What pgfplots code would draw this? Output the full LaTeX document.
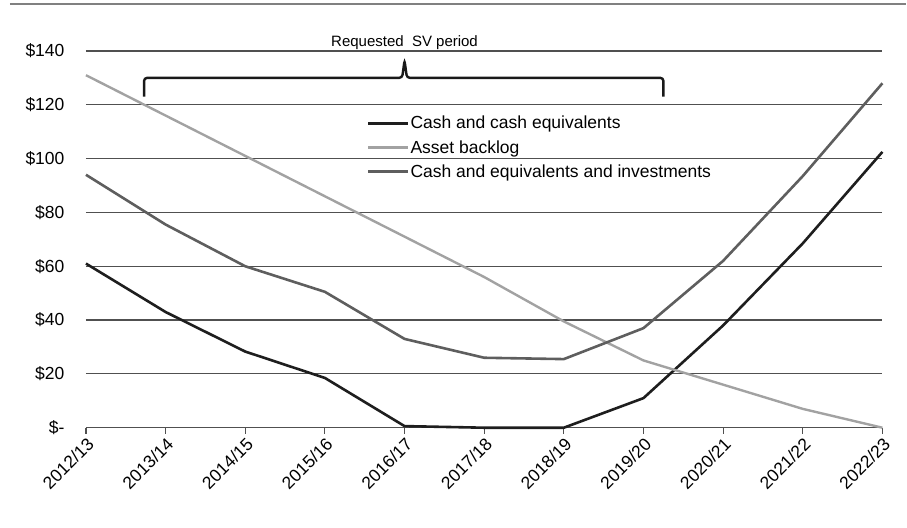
\documentclass[border=0pt]{standalone}
\usepackage{fontspec}
\setmainfont{Liberation Sans}
\usepackage{pgfplots}
\pgfplotsset{compat=1.18}

\definecolor{cashc}{HTML}{1E1E1E}
\definecolor{assetc}{HTML}{A2A2A2}
\definecolor{investc}{HTML}{5E5E5E}
\definecolor{gridc}{HTML}{505050}

\pgfplotstableread{
x cash asset invest
0  61    131   94
1  43    116   75.5
2  28.3  101   60
3  18.5  86    50.5
4  0.6   71    33
5  0     56    26
6  0     39.5  25.5
7  11    25    37
8  38    16    62
9  68.5  7     93.5
10 102.5 0     128
}\datatable

\begin{document}
\begin{tikzpicture}
\begin{axis}[
    at={(0pt,0pt)}, anchor=south west,
    scale only axis,
    width=797pt, height=377pt,
    xmin=0, xmax=10,
    ymin=0, ymax=140,
    clip=false,
    axis x line*=bottom,
    axis y line*=left,
    y axis line style={draw=none},
    x axis line style={gridc, line width=1.2pt},
    xtick={0,...,10},
    xticklabels={2012/13,2013/14,2014/15,2015/16,2016/17,2017/18,2018/19,2019/20,2020/21,2021/22,2022/23},
    xtick style={gridc, line width=1.2pt},
    tick align=outside,
    major tick length=6pt,
    xticklabel style={rotate=45, anchor=north east, inner sep=2pt, font=\fontsize{17.5}{20}\selectfont},
    ytick={0,20,...,140},
    yticklabels={\$-,\$20,\$40,\$60,\$80,\$100,\$120,\$140},
    ytick style={draw=none},
    yticklabel style={font=\fontsize{17.5}{20}\selectfont, xshift=-12pt},
    /pgf/number format/assume math mode=true,
    ymajorgrids,
    major grid style={gridc, line width=1.2pt},
    legend cell align=left,
    legend style={draw=none, fill=none, at={(0.3526,0.83)}, anchor=north west,
        inner sep=0pt, row sep=8pt, font=\fontsize{17.5}{20}\selectfont,
        nodes={inner sep=1pt}},
    legend image code/.code={\draw[#1] (0pt,0pt) -- (40pt,0pt);},
    legend style={/tikz/every even column/.append style={column sep=4pt}},
]
\addplot[cashc, line width=2.6pt, line join=round] table[x=x, y=cash] {\datatable};
\addplot[assetc, line width=2.4pt, line join=round] table[x=x, y=asset] {\datatable};
\addplot[investc, line width=2.6pt, line join=round] table[x=x, y=invest] {\datatable};
\legend{Cash and cash equivalents, Asset backlog, Cash and equivalents and investments}

% bracket over the requested period
\draw[black!90, line width=2.4pt, rounded corners=3pt]
    (axis cs:0.73,123) -- (axis cs:0.73,130) -- (axis cs:3.97,130)
    -- (axis cs:4,136.5) -- (axis cs:4.03,130) -- (axis cs:7.25,130) -- (axis cs:7.25,123);
\node[font=\fontsize{15}{18}\selectfont] at (axis cs:4,143.2) {Requested\ \ SV period};
\end{axis}
% rule at the top of the page
\draw[gray, line width=1.2pt] (-76pt,424pt) -- (821pt,424pt);
\path[use as bounding box] (-86pt,-100pt) rectangle (821pt,428pt);
\end{tikzpicture}
\end{document}
